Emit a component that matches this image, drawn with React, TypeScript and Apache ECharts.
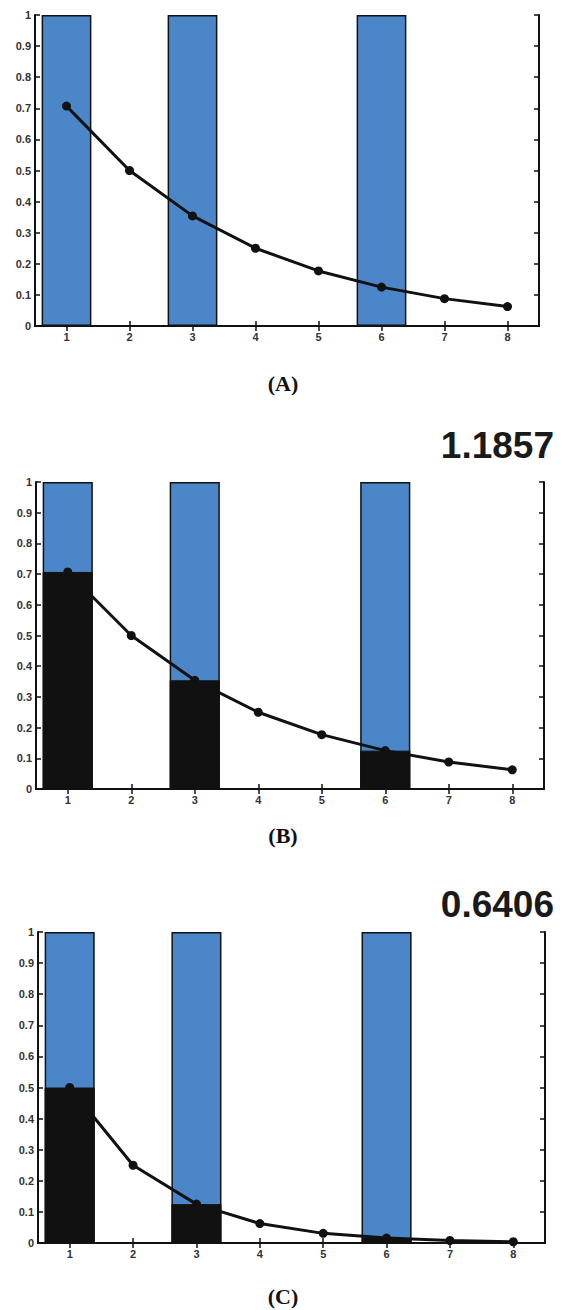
import React, { useEffect, useRef } from "react";
import * as echarts from "echarts";

const categories = ["1", "2", "3", "4", "5", "6", "7", "8"];
const lineA = [0.707, 0.5, 0.354, 0.25, 0.177, 0.125, 0.088, 0.0625];
const lineB = [0.707, 0.5, 0.354, 0.25, 0.177, 0.125, 0.088, 0.0625];
const lineC = [0.5, 0.25, 0.125, 0.0625, 0.031, 0.016, 0.008, 0.004];
const blueBars: (number | string)[] = [1, "-", 1, "-", "-", 1, "-", "-"];
const blackB: (number | string)[] = [0.707, "-", 0.354, "-", "-", 0.125, "-", "-"];
const blackC: (number | string)[] = [0.5, "-", 0.125, "-", "-", 0.016, "-", "-"];
const scoreLabels = ["1.1857", "0.6406"];
const panelLabels = ["(A)", "(B)", "(C)"];

const BLUE = "#4a86c8";
const INK = "#111111";

export default function App() {
  const ref = useRef<HTMLDivElement>(null);
  useEffect(() => {
    if (!ref.current) return;
    const chart = echarts.init(ref.current, null, { renderer: "svg" });

    const grids = [
      { left: 35, top: 15, width: 504, height: 311 },
      { left: 36, top: 482, width: 508, height: 307 },
      { left: 38, top: 932, width: 507, height: 311 },
    ];
    const lines = [lineA, lineB, lineC];
    const blacks = [null, blackB, blackC];

    const xAxis: any[] = [];
    const yAxis: any[] = [];
    const series: any[] = [];
    grids.forEach((g, i) => {
      xAxis.push({
        type: "category",
        gridIndex: i,
        position: "bottom",
        data: categories,
        boundaryGap: true,
        axisLine: { show: true, lineStyle: { color: INK, width: 2 } },
        axisTick: { show: true, inside: true, alignWithLabel: true, length: 5, lineStyle: { color: INK, width: 1.5 } },
        axisLabel: { show: true, margin: 5, color: "#333", fontSize: 11, fontWeight: "bold", fontFamily: "Liberation Sans, Arial, sans-serif" },
        splitLine: { show: false },
      });
      xAxis.push({
        type: "category",
        gridIndex: i,
        position: "top",
        data: categories,
        boundaryGap: true,
        axisLine: { show: true, lineStyle: { color: INK, width: 2 } },
        axisTick: { show: true, inside: true, alignWithLabel: true, length: 5, lineStyle: { color: INK, width: 1.5 } },
        axisLabel: { show: false },
        splitLine: { show: false },
      });
      yAxis.push({
        type: "value",
        gridIndex: i,
        position: "left",
        min: 0,
        max: 1,
        interval: 0.1,
        axisLine: { show: true, lineStyle: { color: INK, width: 2 } },
        axisTick: { show: true, inside: true, length: 5, lineStyle: { color: INK, width: 1.5 } },
        axisLabel: { show: true, margin: 4, color: "#333", fontSize: 11, fontWeight: "bold", fontFamily: "Liberation Sans, Arial, sans-serif" },
        splitLine: { show: false },
      });
      yAxis.push({
        type: "value",
        gridIndex: i,
        position: "right",
        min: 0,
        max: 1,
        interval: 0.1,
        axisLine: { show: true, lineStyle: { color: INK, width: 2 } },
        axisTick: { show: true, inside: true, length: 5, lineStyle: { color: INK, width: 1.5 } },
        axisLabel: { show: false },
        splitLine: { show: false },
      });

      series.push({
        type: "bar",
        xAxisIndex: 2 * i,
        yAxisIndex: 2 * i,
        data: blueBars,
        barWidth: "79%",
        barGap: "-100%",
        z: 1,
        itemStyle: { color: BLUE, borderColor: INK, borderWidth: 1.5 },
      });
      series.push({
        type: "line",
        xAxisIndex: 2 * i,
        yAxisIndex: 2 * i,
        data: lines[i],
        z: 2,
        symbol: "circle",
        symbolSize: 9,
        lineStyle: { color: INK, width: 3 },
        itemStyle: { color: INK },
      });
      const b = blacks[i];
      if (b) {
        series.push({
          type: "bar",
          xAxisIndex: 2 * i,
          yAxisIndex: 2 * i,
          data: b,
          barWidth: "79%",
          barGap: "-100%",
          z: 3,
          itemStyle: { color: INK, borderColor: INK, borderWidth: 1 },
        });
      }
    });

    const labelY = [383, 835, 1296];
    const graphic: any[] = panelLabels.map((t, i) => ({
      type: "text",
      x: 283,
      y: labelY[i],
      style: {
        text: t,
        font: "bold 22px 'Liberation Serif', 'Times New Roman', serif",
        fill: "#111",
        textAlign: "center",
        textVerticalAlign: "middle",
      },
    }));
    const scoreY = [445, 904];
    scoreLabels.forEach((t, i) => {
      graphic.push({
        type: "text",
        x: 554,
        y: scoreY[i],
        style: {
          text: t,
          font: "bold 37px 'Liberation Sans', Arial, sans-serif",
          fill: "#1a1a1a",
          textAlign: "right",
          textVerticalAlign: "middle",
        },
      });
    });

    chart.setOption({
      animation: false,
      backgroundColor: "#ffffff",
      grid: grids.map((g) => ({ ...g, containLabel: false })),
      xAxis,
      yAxis,
      series,
      graphic,
    });
    return () => chart.dispose();
  }, []);
  return (
    <div
      ref={ref}
      style={{ position: "absolute", left: 0, top: 0, width: 562, height: 1310, background: "#fff" }}
    />
  );
}
